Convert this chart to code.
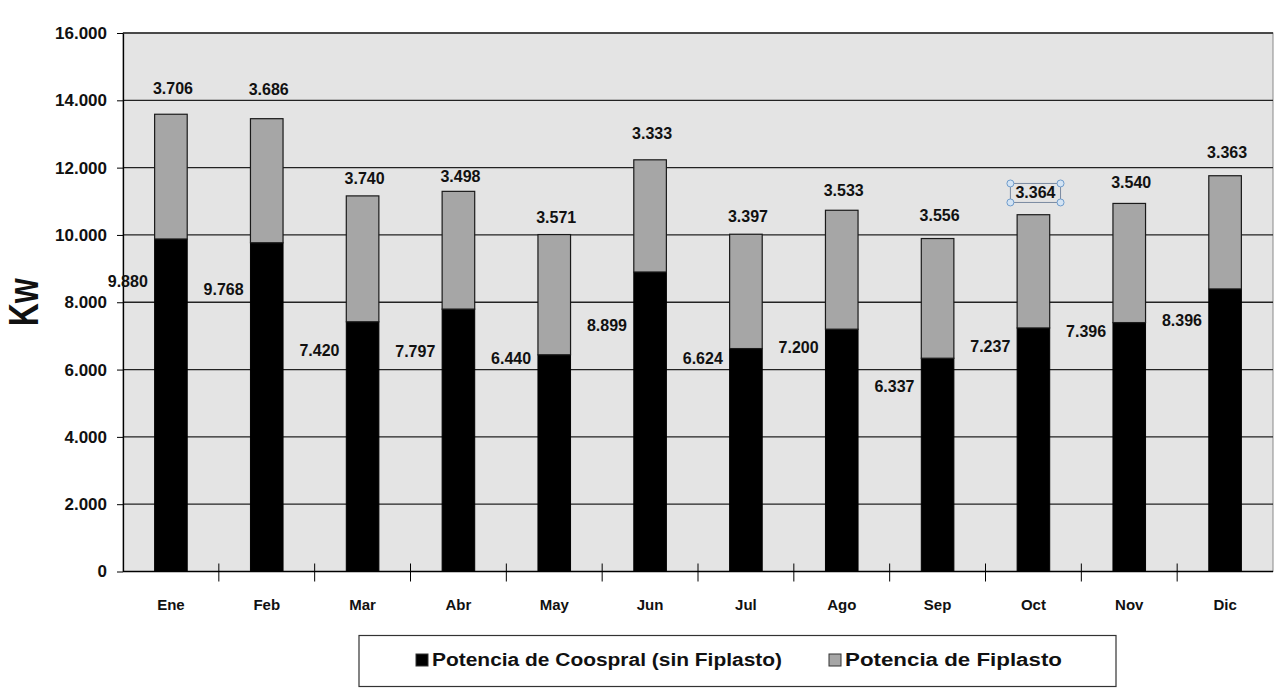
<!DOCTYPE html>
<html>
<head>
<meta charset="utf-8">
<script src="https://cdn.jsdelivr.net/npm/d3@7"></script>
<style>
  body { margin: 0; background: #fff; }
  text { font-family: Arial, "Liberation Sans", sans-serif; font-weight: bold; fill: #111; }
</style>
</head>
<body>
<svg id="chart-svg"></svg>
<script>
const months = ["Ene", "Feb", "Mar", "Abr", "May", "Jun", "Jul", "Ago", "Sep", "Oct", "Nov", "Dic"];
const coospral = [9880, 9768, 7420, 7797, 6440, 8899, 6624, 7200, 6337, 7237, 7396, 8396];
const fiplasto = [3706, 3686, 3740, 3498, 3571, 3333, 3397, 3533, 3556, 3364, 3540, 3363];
const y_ticks = [0, 2000, 4000, 6000, 8000, 10000, 12000, 14000, 16000];
const series_names = ["Potencia de Coospral (sin Fiplasto)", "Potencia de Fiplasto"];

// where the labels were dragged to in the original, in Kw
const label_at_coospral = [8608, 8370, 6560, 6530, 6322, 7302, 6322, 6649, 5491, 6679, 7124, 7450];
const label_at_fiplasto = [14366, 14336, 11665, 11725, 10507, 13030, 10537, 11309, 10567, 11250, 11547, 12467];

const width = 1277,
  height = 688;
const margin = { top: 33, bottom: 116, left: 123, right: 4 };

const svg = d3
  .select("#chart-svg")
  .attr("width", width)
  .attr("height", height)
  .attr("viewBox", [0, 0, width, height]);

const locale = d3.formatLocale({ decimal: ",", thousands: ".", grouping: [3], currency: ["$", ""] });
const fmt = locale.format(",");

const X = d3
  .scaleBand()
  .domain(months)
  .range([margin.left, width - margin.right])
  .padding(0);

const Y = d3
  .scaleLinear()
  .domain([0, 16000])
  .range([height - margin.bottom - 0.5, margin.top]);

const rows = months.map((m, i) => ({
  month: m,
  c: coospral[i],
  f: fiplasto[i],
  lc: label_at_coospral[i],
  lf: label_at_fiplasto[i],
}));

// plot area
svg
  .append("rect")
  .attr("x", X.range()[0])
  .attr("y", Y(16000))
  .attr("width", X.range()[1] - X.range()[0])
  .attr("height", Y(0) - Y(16000))
  .style("fill", "#e4e4e4")
  .style("stroke", "#8a8a8a")
  .style("stroke-width", 1);

// gridlines
svg
  .append("g")
  .selectAll("line")
  .data(y_ticks.filter((d) => d > 0))
  .join("line")
  .attr("x1", X.range()[0])
  .attr("x2", X.range()[1])
  .attr("y1", (d) => Y(d))
  .attr("y2", (d) => Y(d))
  .style("stroke", "#222")
  .style("stroke-width", 1.3);

// y axis
const yAxis = d3
  .axisLeft(Y)
  .tickValues(y_ticks)
  .tickFormat(fmt)
  .tickSizeInner(6)
  .tickSizeOuter(0)
  .tickPadding(10);

const y_g = svg
  .append("g")
  .attr("transform", `translate(${margin.left},0)`)
  .call(yAxis);
y_g.select(".domain").style("stroke", "#000").style("stroke-width", 1.3);
y_g.selectAll(".tick line").style("stroke", "#000");
y_g.selectAll(".tick text").style("font-size", "17px").style("font-family", "Arial, 'Liberation Sans'").style("font-weight", "bold").attr("fill", "#111");

// x axis, ticks between categories
const x_g = svg.append("g");
x_g
  .append("line")
  .attr("x1", X.range()[0])
  .attr("x2", X.range()[1])
  .attr("y1", Y(0))
  .attr("y2", Y(0))
  .style("stroke", "#000")
  .style("stroke-width", 1.3);
x_g
  .selectAll(".xtick")
  .data(months.slice(1))
  .join("line")
  .attr("class", "xtick")
  .attr("x1", (d) => X(d))
  .attr("x2", (d) => X(d))
  .attr("y1", Y(0) - 8)
  .attr("y2", Y(0) + 10)
  .style("stroke", "#000");
x_g
  .selectAll(".xlabel")
  .data(months)
  .join("text")
  .attr("class", "xlabel")
  .attr("x", (d) => X(d) + X.bandwidth() / 2)
  .attr("y", Y(0) + 38)
  .attr("text-anchor", "middle")
  .style("font-size", "15px")
  .text((d) => d);

// bars
const bar_w = X.bandwidth() * 0.34;
const bars = svg.append("g");
bars
  .selectAll(".bar-c")
  .data(rows)
  .join("rect")
  .attr("class", "bar-c")
  .attr("x", (d) => X(d.month) + (X.bandwidth() - bar_w) / 2)
  .attr("y", (d) => Y(d.c))
  .attr("width", bar_w)
  .attr("height", (d) => Y(0) - Y(d.c))
  .style("fill", "#000")
  .style("stroke", "#000");
bars
  .selectAll(".bar-f")
  .data(rows)
  .join("rect")
  .attr("class", "bar-f")
  .attr("x", (d) => X(d.month) + (X.bandwidth() - bar_w) / 2)
  .attr("y", (d) => Y(d.c + d.f))
  .attr("width", bar_w)
  .attr("height", (d) => Y(d.c) - Y(d.c + d.f))
  .style("fill", "#a6a6a6")
  .style("stroke", "#1a1a1a")
  .style("stroke-width", 1.2);

// value labels
const labels = svg.append("g");
labels
  .selectAll(".lab-c")
  .data(rows)
  .join("text")
  .attr("class", "lab-c")
  .attr("x", (d) => X(d.month) + X.bandwidth() * 0.05)
  .attr("y", (d) => Y(d.lc))
  .attr("dy", "0.35em")
  .attr("text-anchor", "middle")
  .style("font-size", "16px")
  .text((d) => fmt(d.c));

labels
  .selectAll(".lab-f")
  .data(rows)
  .join("text")
  .attr("class", "lab-f")
  .attr("x", (d) => X(d.month) + X.bandwidth() / 2 + 2)
  .attr("y", (d) => Y(d.lf))
  .attr("dy", "0.35em")
  .attr("text-anchor", "middle")
  .style("font-size", "16px")
  .text((d) => fmt(d.f));

// the selected label in Oct (selection frame with handles)
const sel = labels.selectAll(".lab-f").filter((d) => d.month === "Oct").node().getBBox();
const sx0 = sel.x - 5, sx1 = sel.x + sel.width + 5, sy0 = sel.y - 1, sy1 = sel.y + sel.height + 1;
labels
  .append("rect")
  .attr("x", sx0)
  .attr("y", sy0)
  .attr("width", sx1 - sx0)
  .attr("height", sy1 - sy0)
  .style("fill", "none")
  .style("stroke", "#7a8aa0")
  .style("stroke-width", 1);
labels
  .selectAll(".handle")
  .data([[sx0, sy0], [sx1, sy0], [sx0, sy1], [sx1, sy1]])
  .join("circle")
  .attr("class", "handle")
  .attr("cx", (d) => d[0])
  .attr("cy", (d) => d[1])
  .attr("r", 3.5)
  .style("fill", "#d4e4f4")
  .style("stroke", "#6f9ccc")
  .style("stroke-width", 1);

// y title
svg
  .append("text")
  .attr("transform", `translate(38,${(Y(0) + Y(16000)) / 2}) rotate(-90) scale(1,1.3)`)
  .attr("text-anchor", "middle")
  .style("font-size", "32px")
  .text("Kw");

// legend
const legend = svg.append("g");
legend
  .append("rect")
  .attr("x", 359)
  .attr("y", 635.5)
  .attr("width", 757)
  .attr("height", 51)
  .style("fill", "#fff")
  .style("stroke", "#333")
  .style("stroke-width", 1.2);

const legend_items = [
  { name: series_names[0], fill: "#000", x: 416, tw: 350 },
  { name: series_names[1], fill: "#a6a6a6", x: 829, tw: 217 },
];
const li = legend
  .selectAll(".li")
  .data(legend_items)
  .join("g")
  .attr("class", "li")
  .attr("transform", (d) => `translate(${d.x},660)`);
li.append("rect")
  .attr("x", 0)
  .attr("y", -6)
  .attr("width", 12)
  .attr("height", 12)
  .style("fill", (d) => d.fill)
  .style("stroke", "#333");
li.append("text")
  .attr("x", 16)
  .attr("dy", "0.35em")
  .attr("textLength", (d) => d.tw)
  .attr("lengthAdjust", "spacingAndGlyphs")
  .style("font-size", "18px")
  .text((d) => d.name);
</script>
</body>
</html>
